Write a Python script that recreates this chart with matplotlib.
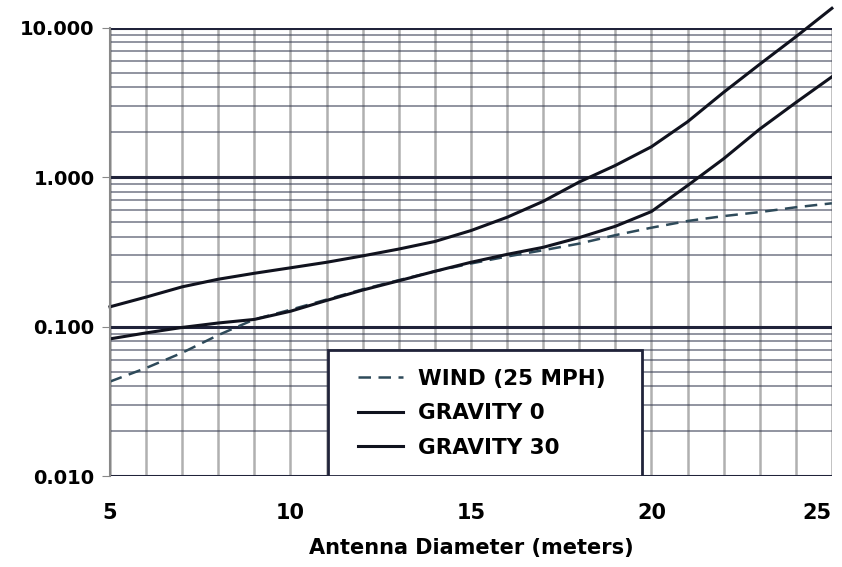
import matplotlib
matplotlib.use("Agg")
import matplotlib.pyplot as plt
from matplotlib.patches import Rectangle
from matplotlib.ticker import FixedLocator, LogLocator, NullFormatter

# Antenna diameter (m) and rms surface error contributions
diameter = [5, 6, 7, 8, 9, 10, 11, 12, 13, 14, 15,
            16, 17, 18, 19, 20, 21, 22, 23, 24, 25]
wind = [0.043, 0.053, 0.067, 0.088, 0.112, 0.130, 0.152, 0.178, 0.205, 0.235, 0.265,
        0.295, 0.325, 0.360, 0.410, 0.460, 0.510, 0.550, 0.585, 0.630, 0.670]
gravity_0 = [0.136, 0.158, 0.185, 0.208, 0.228, 0.248, 0.270, 0.298, 0.331, 0.372, 0.440,
             0.540, 0.690, 0.930, 1.200, 1.600, 2.350, 3.700, 5.700, 8.700, 13.500]
gravity_30 = [0.083, 0.091, 0.099, 0.106, 0.112, 0.127, 0.150, 0.176, 0.203, 0.235, 0.270,
              0.305, 0.340, 0.395, 0.470, 0.590, 0.880, 1.330, 2.100, 3.160, 4.700]

x_ticks = [5, 10, 15, 20, 25]
y_ticks = [0.01, 0.1, 1.0, 10.0]
y_labels = ["0.010", "0.100", "1.000", "10.000"]
legend_labels = ["WIND (25 MPH)", "GRAVITY 0", "GRAVITY 30"]

plt.rcParams["font.family"] = ["DejaVu Sans"]

fig = plt.figure(figsize=(8.42, 5.67), dpi=100)
ax = fig.add_axes([0.1306, 0.160, 0.8574, 0.791])

ax.set_yscale("log")
ax.set_xlim(5, 25)
ax.set_ylim(0.01, 10)

# grid: every metre vertically, log minor lines horizontally
ax.xaxis.set_minor_locator(FixedLocator(range(5, 26)))
ax.yaxis.set_minor_locator(LogLocator(base=10, subs=range(2, 10)))
ax.yaxis.set_minor_formatter(NullFormatter())
ax.grid(which="both", axis="x", color="#b0b0b0", lw=1.8)
ax.grid(which="minor", axis="y", color="#3a3f55", lw=1.3, alpha=0.6)
ax.grid(which="major", axis="y", color="#20233a", lw=2.2)
ax.set_axisbelow(True)

ax.plot(diameter, wind, color="#2e4a5a", lw=1.8, ls=(0, (5, 3)),
        label=legend_labels[0])
ax.plot(diameter, gravity_0, color="#10121e", lw=2.2, label=legend_labels[1],
        clip_on=False)
ax.plot(diameter, gravity_30, color="#10121e", lw=2.2, label=legend_labels[2])

ax.set_xticks(x_ticks)
ax.set_xticklabels([str(t) for t in x_ticks], fontsize=15, fontweight="bold")
ax.get_xticklabels()[-1].set_horizontalalignment("right")
ax.set_yticks(y_ticks)
ax.set_yticklabels(y_labels, fontsize=14, fontweight="bold")
ax.tick_params(axis="x", which="both", length=0, pad=19)
ax.tick_params(axis="y", which="major", length=6, color="#888888", pad=5)
ax.tick_params(axis="y", which="minor", length=0)

ax.set_xlabel("Antenna Diameter (meters)", fontsize=15, fontweight="bold",
              labelpad=11)

for side in ["top", "right", "bottom"]:
    ax.spines[side].set_visible(False)
ax.spines["left"].set_color("#888888")
ax.spines["left"].set_linewidth(1.5)

# legend box: white panel sitting on the x axis
ax.add_patch(Rectangle((0.302, 0.0), 0.435, 0.281, transform=ax.transAxes,
                       facecolor="white", edgecolor="#20233a", lw=2.0,
                       zorder=4))
leg = ax.legend(loc="upper left", bbox_to_anchor=(0.343, 0.24),
                frameon=False, prop={"weight": "bold", "size": 15.5},
                handlelength=2.1, handletextpad=0.7, labelspacing=0.68,
                borderpad=0.0, borderaxespad=0.0)
leg.set_zorder(5)

fig.savefig("out.png", dpi=100)
